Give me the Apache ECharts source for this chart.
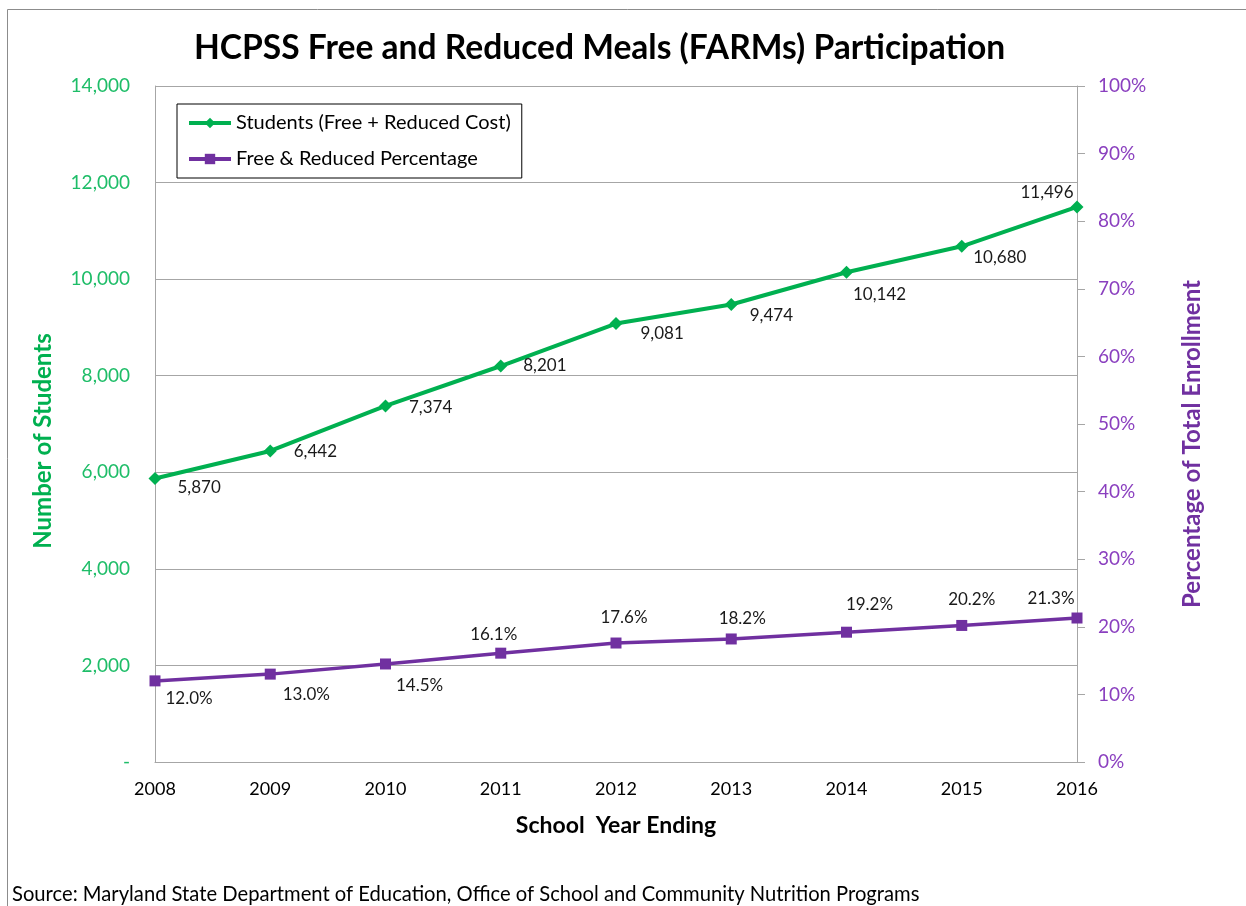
<!DOCTYPE html>
<html>
<head>
<meta charset="utf-8">
<script src="https://cdn.jsdelivr.net/npm/echarts@6/dist/echarts.min.js"></script>
<style>html,body{margin:0;padding:0;background:#fff}#c{width:1246px;height:906px}</style>
</head>
<body>
<div id="c"></div>
<script>
const years = ['2008','2009','2010','2011','2012','2013','2014','2015','2016'];
const students = [5870, 6442, 7374, 8201, 9081, 9474, 10142, 10680, 11496];
const percentages = [12.0, 13.0, 14.5, 16.1, 17.6, 18.2, 19.2, 20.2, 21.3];
const titleText = 'HCPSS Free and Reduced Meals (FARMs) Participation';
const seriesNames = ['Students (Free + Reduced Cost)', 'Free & Reduced Percentage'];
const sourceText = 'Source: Maryland State Department of Education, Office of School and Community Nutrition Programs';

// label placement (style only)
const studentLabelPlace = [
  ['right', 11, 9], ['right', 12, 1], ['right', 12, 2], ['right', 11, 0], ['right', 13, 10],
  ['right', 7, 11], ['right', -5, 22], ['right', 0, 11], ['top', -30, 6]
];
const pctLabelPlace = [
  ['right', 0, 18], ['right', 2, 20], ['right', 0, 22], ['top', -7, 0], ['top', 8, -7],
  ['top', 11, -1], ['top', 23, -9], ['top', 10, -7], ['top', -26, 0]
];

const FONT = 'Lato, "Open Sans", sans-serif';
const fmt = v => v.toLocaleString('en-US');

const chart = echarts.init(document.getElementById('c'), null, {renderer: 'canvas'});
chart.setOption({
  backgroundColor: '#fff',
  animation: false,
  textStyle: {fontFamily: FONT},
  title: {
    text: titleText, left: 189, top: 26,
    textStyle: {fontFamily: FONT, fontSize: 33.6, fontWeight: 'bold', color: '#000'}
  },
  graphic: [
    {type: 'rect', shape: {x: 7.5, y: 9.5, width: 1400, height: 1000}, style: {fill: 'none', stroke: '#8c8c8c', lineWidth: 1}, silent: true},
    {type: 'text', left: 12, top: 884, style: {text: sourceText, font: '20.2px ' + FONT, fill: '#000'}}
  ],
  legend: {
    orient: 'vertical', left: 177, top: 104,
    itemWidth: 42, itemHeight: 13, itemGap: 16,
    padding: [9, 11, 9, 10],
    borderColor: '#000', borderWidth: 1,
    lineStyle: {width: 4},
    textStyle: {fontFamily: FONT, fontSize: 20, color: '#000'},
    data: seriesNames
  },
  grid: {left: 155, right: 169, top: 86, bottom: 144, containLabel: false},
  xAxis: {
    type: 'category', data: years, boundaryGap: false,
    name: 'School  Year Ending', nameLocation: 'middle', nameGap: 52,
    nameTextStyle: {fontFamily: FONT, fontSize: 23, fontWeight: 'bold', color: '#000'},
    axisLine: {lineStyle: {color: '#a6a6a6', width: 1}},
    axisTick: {show: false},
    axisLabel: {fontFamily: FONT, fontSize: 18, color: '#000', margin: 18}
  },
  yAxis: [
    {
      type: 'value', min: 0, max: 14000, interval: 2000, position: 'left',
      name: 'Number of Students', nameLocation: 'middle', nameRotate: 90, nameGap: 100,
      nameTextStyle: {fontFamily: FONT, fontSize: 24, fontWeight: 'bold', color: '#00B050', padding: [0, 34, 0, 0]},
      axisLine: {show: true, lineStyle: {color: '#a6a6a6', width: 1}},
      axisTick: {show: false},
      splitLine: {show: true, lineStyle: {color: '#a6a6a6', width: 1}},
      axisLabel: {fontFamily: FONT, fontSize: 19, color: '#1EBD68', margin: 25,
        formatter: v => v === 0 ? '-' : fmt(v)}
    },
    {
      type: 'value', min: 0, max: 100, interval: 10, position: 'right',
      name: 'Percentage of Total Enrollment', nameLocation: 'middle', nameRotate: 90, nameGap: 103,
      nameTextStyle: {fontFamily: FONT, fontSize: 24, fontWeight: 'bold', color: '#7030A0', padding: [0, 40, 0, 0]},
      axisLine: {show: true, lineStyle: {color: '#a6a6a6', width: 1}},
      axisTick: {show: true, length: 8, lineStyle: {color: '#a6a6a6'}},
      splitLine: {show: false},
      axisLabel: {fontFamily: FONT, fontSize: 19, color: '#8A3FBF', margin: 21,
        formatter: v => v + '%'}
    }
  ],
  series: [
    {
      name: seriesNames[0], type: 'line', yAxisIndex: 0,
      data: students.map((v, i) => ({
        value: v,
        label: {position: studentLabelPlace[i][0], offset: [studentLabelPlace[i][1], studentLabelPlace[i][2]]}
      })),
      symbol: 'diamond', symbolSize: 13,
      lineStyle: {color: '#00B050', width: 4},
      itemStyle: {color: '#00B050'},
      label: {show: true, distance: 5, fontFamily: FONT, fontSize: 17, color: '#1a1a1a',
        formatter: p => fmt(p.value)}
    },
    {
      name: seriesNames[1], type: 'line', yAxisIndex: 1,
      data: percentages.map((v, i) => ({
        value: v,
        label: {position: pctLabelPlace[i][0], offset: [pctLabelPlace[i][1], pctLabelPlace[i][2]]}
      })),
      symbol: 'rect', symbolSize: 11,
      lineStyle: {color: '#7030A0', width: 3.5},
      itemStyle: {color: '#7030A0'},
      label: {show: true, distance: 5, fontFamily: FONT, fontSize: 17, color: '#1a1a1a',
        formatter: p => p.value.toFixed(1) + '%'}
    }
  ]
});
</script>
</body>
</html>
